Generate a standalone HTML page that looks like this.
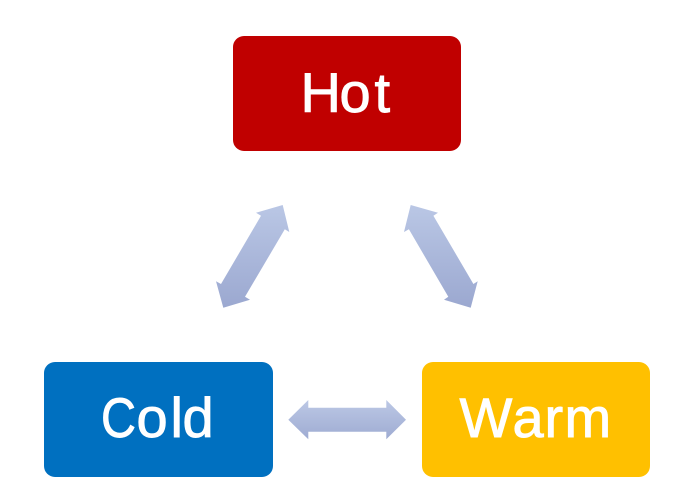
<!DOCTYPE html>
<html>
<head>
<meta charset="utf-8">
<style>
html,body{margin:0;padding:0;background:#fff}
svg{display:block}
text{font-family:"Liberation Sans",sans-serif;font-size:56px;fill:#fff;stroke:#fff;stroke-width:.9px}
</style>
</head>
<body>
<svg width="690" height="504" viewBox="0 0 690 504" xmlns="http://www.w3.org/2000/svg">
<defs>
<linearGradient id="g" gradientUnits="userSpaceOnUse" x1="0" y1="205" x2="0" y2="308">
<stop offset="0" stop-color="#bac7e5"/><stop offset="1" stop-color="#9ba8d0"/>
</linearGradient>
<linearGradient id="h" gradientUnits="userSpaceOnUse" x1="0" y1="400" x2="0" y2="440">
<stop offset="0" stop-color="#bcc8e5"/><stop offset="1" stop-color="#9eabd2"/>
</linearGradient>
</defs>
<rect x="233" y="36" width="228" height="115" rx="11" fill="#c00000"/>
<rect x="44" y="362" width="229" height="115" rx="11" fill="#0070c0"/>
<rect x="422" y="362" width="228" height="115" rx="11" fill="#ffc000"/>
<text x="300.5 339.5 374.5" y="112">Hot</text>
<text x="101" y="437" textLength="35" lengthAdjust="spacingAndGlyphs">C</text>
<text x="136.5 170.5 182.5" y="437">old</text>
<text x="459.5 512.5 544.5 564.5" y="437">Warm</text>
<polygon fill="url(#g)" points="282.7,205 256,212.7 261,215.8 221,284 216,281.3 223.3,307.7 250,299.7 245,296.7 284.8,229.3 289.3,232"/>
<polygon fill="url(#g)" points="410.7,205 438,212.7 433.4,215.8 473.4,284 477.7,281.3 470.7,307.7 444,299.7 448.3,296.7 408.9,229.3 404,232"/>
<polygon fill="url(#h)" points="288.3,419.7 308.3,400 308.3,407.7 386.3,407.7 386.3,400 406,419.7 386.3,439.3 386.3,431.7 308.3,431.7 308.3,439.3"/>
</svg>
</body>
</html>
